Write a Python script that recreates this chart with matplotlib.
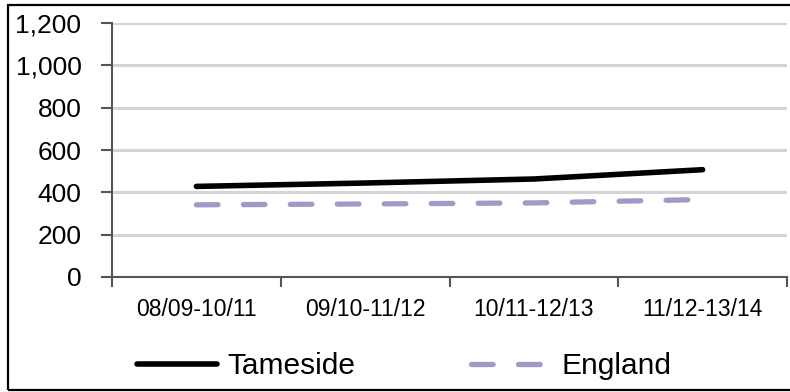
import matplotlib
matplotlib.use("Agg")
import matplotlib.pyplot as plt
from matplotlib.patches import Rectangle
from matplotlib.ticker import FixedLocator, FuncFormatter

plt.rcParams["font.family"] = ["Liberation Sans", "DejaVu Sans"]

# Data
periods = ["08/09-10/11", "09/10-11/12", "10/11-12/13", "11/12-13/14"]
tameside = [428, 444, 463, 507]
england = [341, 345, 350, 366]
y_ticks = [0, 200, 400, 600, 800, 1000, 1200]

W, H = 790, 392
fig = plt.figure(figsize=(W / 100, H / 100), dpi=100)
ax = fig.add_axes([112 / W, 1 - 277 / H, 675 / W, 254 / H])

x = list(range(len(periods)))
ax.plot(x, tameside, color="#000000", lw=4.0, solid_capstyle="round",
        label="Tameside", zorder=3)
ax.plot(x, england, color="#9f9ac8", lw=3.8, linestyle=(0, (4.1, 4.8)),
        dash_capstyle="round", label="England", zorder=3)

ax.set_xlim(-0.5, len(periods) - 0.5)
ax.set_ylim(0, 1200)

# gridlines
for v in y_ticks[1:]:
    ax.axhline(v, color="#d4d4d4", lw=2.2, zorder=1)

ax.yaxis.set_major_locator(FixedLocator(y_ticks))
ax.yaxis.set_major_formatter(FuncFormatter(lambda v, p: f"{int(v):,}"))
ax.tick_params(axis="y", direction="out", length=8, width=1.5,
               color="#555555", labelsize=19, pad=14, labelcolor="black")

ax.set_xticks(x)
ax.set_xticklabels(periods)
ax.set_xticks([i - 0.5 for i in range(len(periods) + 1)], minor=True)
ax.tick_params(axis="x", which="major", length=0, labelsize=16.5, pad=15)
ax.tick_params(axis="x", which="minor", direction="out", length=7,
               width=1.5, color="#555555")

for s in ["top", "right"]:
    ax.spines[s].set_visible(False)
for s in ["left", "bottom"]:
    ax.spines[s].set_color("#555555")
    ax.spines[s].set_linewidth(1.5)

leg = ax.legend(loc="center left", ncol=2, frameon=False, fontsize=21.5,
                bbox_to_anchor=(137 / W, 1 - 366 / H),
                bbox_transform=fig.transFigure, borderpad=0,
                borderaxespad=0, handlelength=2.68, handletextpad=0.33,
                columnspacing=3.9)

# outer frame
fig.patches.append(Rectangle((8 / W, 1 - 390 / H), 1.0, 385 / H,
                             transform=fig.transFigure, fill=False,
                             edgecolor="black", lw=1.6))

fig.savefig("out.png", dpi=100)
